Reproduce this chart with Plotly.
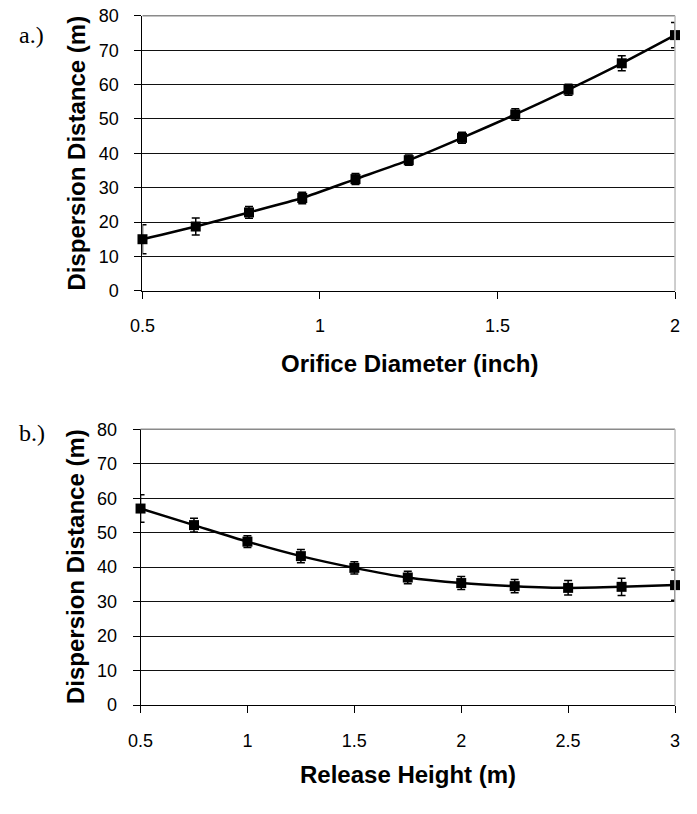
import plotly.graph_objects as go

# Panel a: dispersion distance vs orifice diameter
diameter_in = [0.5, 0.65, 0.8, 0.95, 1.1, 1.25, 1.4, 1.55, 1.7, 1.85, 2.0]
dist_a = [15.0, 18.7, 22.8, 27.0, 32.5, 38.0, 44.5, 51.3, 58.5, 66.2, 74.4]
err_a = [4.2, 2.5, 1.7, 1.7, 1.6, 1.5, 1.6, 1.7, 1.6, 2.2, 3.7]

# Panel b: dispersion distance vs release height
height_m = [0.5, 0.75, 1.0, 1.25, 1.5, 1.75, 2.0, 2.25, 2.5, 2.75, 3.0]
dist_b = [57.0, 52.2, 47.4, 43.2, 39.8, 37.0, 35.4, 34.5, 34.0, 34.3, 34.8]
err_b = [4.0, 2.0, 1.7, 1.9, 1.8, 1.8, 1.9, 1.9, 2.1, 2.5, 4.4]

y_ticks = [0, 10, 20, 30, 40, 50, 60, 70, 80]
x_ticks_a = [0.5, 1, 1.5, 2]
x_ticks_b = [0.5, 1, 1.5, 2, 2.5, 3]

# The page body keeps its default 8px margin, so the figure is sized to
# fill the 697x814 window exactly and layout positions are given in
# window pixels, shifted by that margin.
PAGE_W, PAGE_H = 697, 814
BODY_MARGIN = 8
W, H = PAGE_W - 2 * BODY_MARGIN, PAGE_H - 2 * BODY_MARGIN
SANS = "Liberation Sans, Arial, sans-serif"
SERIF = "Liberation Serif, Times New Roman, serif"


def px_x(v):
    return (v - BODY_MARGIN) / W


def px_y(v):
    return 1 - (v - BODY_MARGIN) / H


fig = go.Figure()


def add_series(x, y, e, xa, ya):
    fig.add_trace(go.Scatter(
        x=x, y=y, xaxis=xa, yaxis=ya, mode="lines+markers",
        line=dict(color="black", width=2.5, shape="spline", smoothing=0.6),
        marker=dict(symbol="square", size=10, color="black"),
        error_y=dict(type="data", array=e, visible=True, color="black",
                     thickness=1.5, width=4),
        cliponaxis=False, showlegend=False,
    ))


add_series(diameter_in, dist_a, err_a, "x", "y")
add_series(height_m, dist_b, err_b, "x2", "y2")

tick_font = dict(family=SANS, size=18, color="black")


def xaxis_cfg(dom, ticks, anchor):
    return dict(
        domain=dom, anchor=anchor, range=[ticks[0], ticks[-1]],
        tickmode="array", tickvals=ticks, ticktext=[f"{t:g}" for t in ticks],
        ticks="outside", ticklen=7, tickwidth=1, tickcolor="black",
        showline=True, linecolor="black", linewidth=1,
        showgrid=False, zeroline=False, tickfont=tick_font,
        ticklabelstandoff=12, ticklabeloverflow="allow",
    )


def yaxis_cfg(dom, anchor):
    return dict(
        domain=dom, anchor=anchor, range=[0, 80],
        tickmode="array", tickvals=y_ticks,
        ticks="outside", ticklen=7, tickwidth=1, tickcolor="black",
        showline=True, linecolor="black", linewidth=1,
        showgrid=True, gridcolor="#111111", gridwidth=1,
        zeroline=False, tickfont=tick_font, ticklabelstandoff=12,
        ticklabeloverflow="allow",
    )


top_x = [px_x(141), px_x(688)]
top_y = [px_y(296), px_y(14)]
bot_x = [px_x(139), px_x(688)]
bot_y = [px_y(721), px_y(438)]

fig.update_layout(
    width=W, height=H, margin=dict(l=0, r=0, t=0, b=0),
    paper_bgcolor="white", plot_bgcolor="white",
    xaxis=xaxis_cfg(top_x, x_ticks_a, "y"),
    yaxis=yaxis_cfg(top_y, "x"),
    xaxis2=xaxis_cfg(bot_x, x_ticks_b, "y2"),
    yaxis2=yaxis_cfg(bot_y, "x2"),
)

# Plot-area frame: grey top edge, light grey right edge
for xr, yr in (("x", "y"), ("x2", "y2")):
    fig.add_shape(type="line", xref=f"{xr} domain", yref=f"{yr} domain",
                  x0=0, x1=1, y0=1, y1=1, line=dict(color="#8a8a8a", width=1.5))
    fig.add_shape(type="line", xref=f"{xr} domain", yref=f"{yr} domain",
                  x0=1, x1=1, y0=0, y1=1, line=dict(color="#bdbdbd", width=1.5))

title_font = dict(family=SANS, size=24, color="black")
label_font = dict(family=SERIF, size=24, color="black")

annotations = [
    dict(text="<b>Dispersion Distance (m)</b>", x=px_x(73), y=px_y(155),
         textangle=-90, font=title_font),
    dict(text="<b>Orifice Diameter (inch)</b>", x=px_x(415), y=px_y(371),
         font=title_font),
    dict(text="a.)", x=px_x(27), y=px_y(34), font=label_font),
    dict(text="<b>Dispersion Distance (m)</b>", x=px_x(72), y=px_y(579),
         textangle=-90, font=title_font),
    dict(text="<b>Release Height (m)</b>", x=px_x(414), y=px_y(792),
         font=title_font),
    dict(text="b.)", x=px_x(28), y=px_y(442), font=label_font),
]
for a in annotations:
    fig.add_annotation(xref="paper", yref="paper", showarrow=False,
                       xanchor="center", yanchor="middle", **a)

fig.write_html("out.html")
